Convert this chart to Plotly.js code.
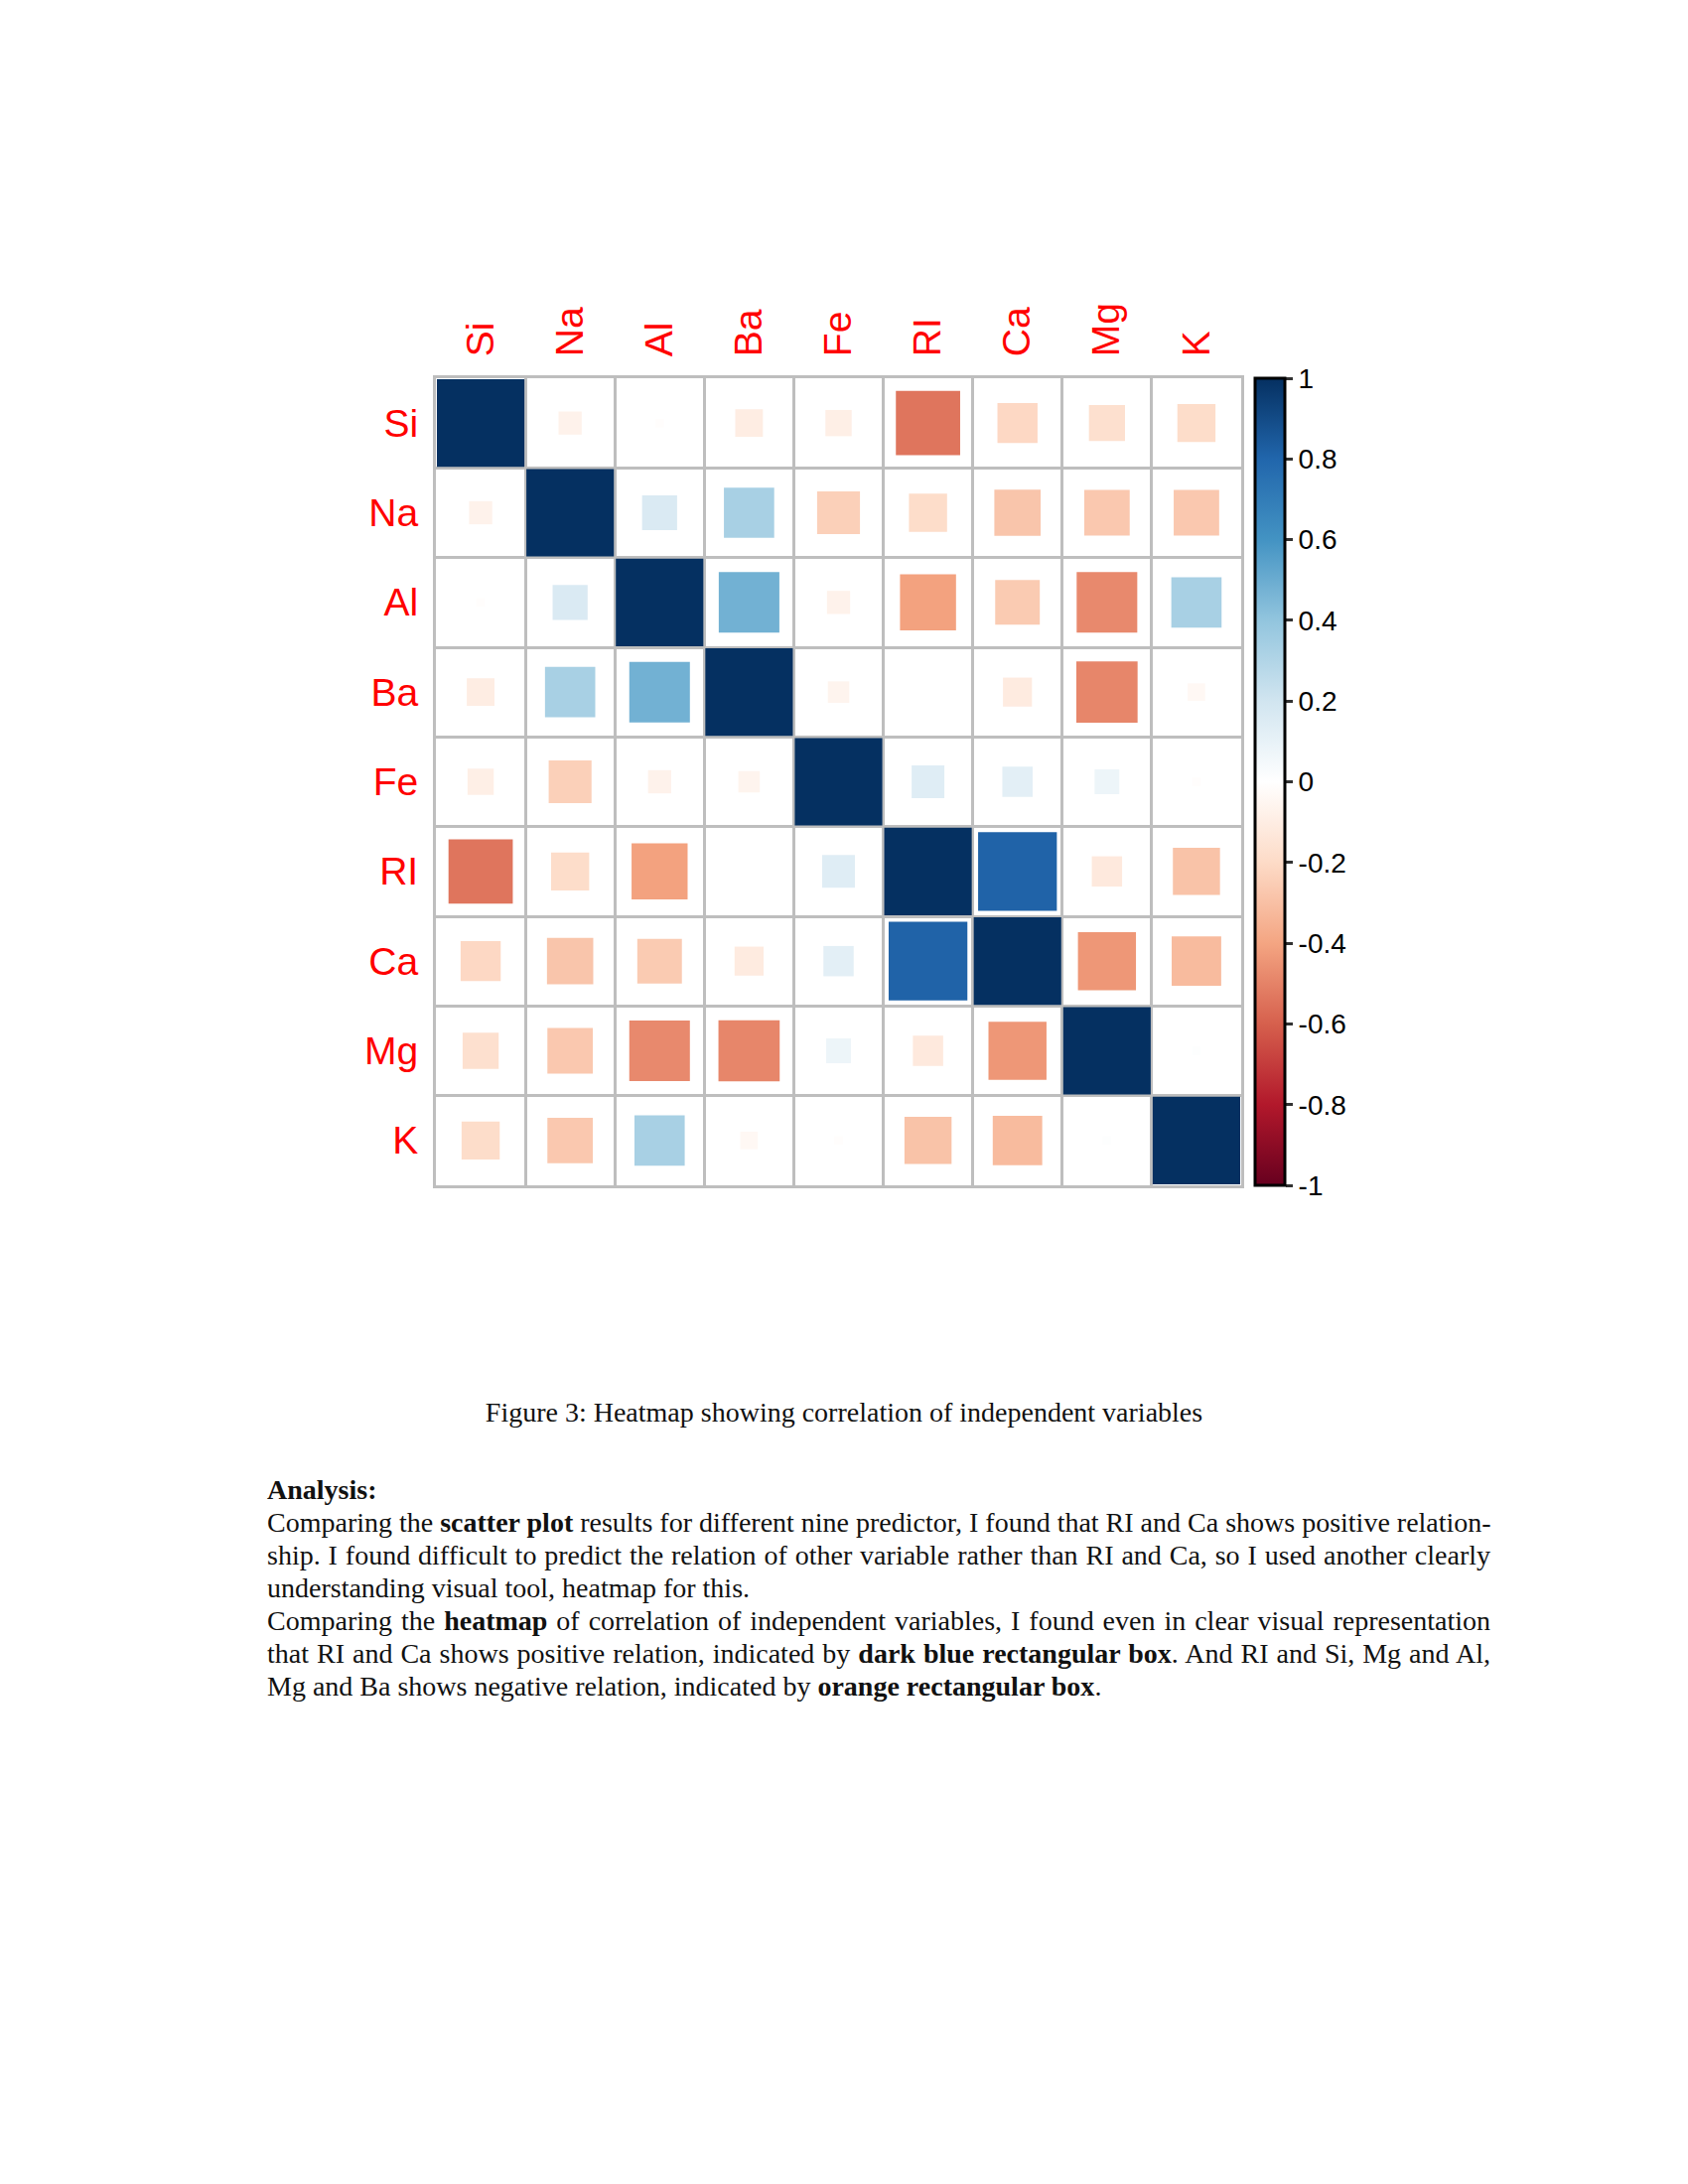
<!DOCTYPE html>
<html>
<head>
<meta charset="utf-8">
<script src="https://cdn.plot.ly/plotly-3.0.1.min.js"></script>
<style>
  html, body { margin: 0; padding: 0; background: #fff; }
  body { width: 1700px; height: 2200px; position: relative; overflow: hidden; }
  #chart { position: absolute; left: 0; top: 0; width: 1700px; height: 1300px; }
  .txt { position: absolute; font-family: "Liberation Serif", "Times New Roman", serif; color: #111; font-size: 28px; }
  #caption { left: 0; width: 1700px; top: 1407px; text-align: center; }
  #analysis { left: 269px; width: 1232px; top: 1484px; line-height: 33px; }
  .j { text-align: justify; text-align-last: justify; white-space: nowrap; }
  .l { text-align: left; white-space: nowrap; }
</style>
</head>
<body>
<div id="chart"></div>
<div id="caption" class="txt">Figure 3: Heatmap showing correlation of independent variables</div>
<div id="analysis" class="txt">
  <div class="l"><b>Analysis:</b></div>
  <div class="j">Comparing the <b>scatter plot</b> results for different nine predictor, I found that RI and Ca shows positive relation-</div>
  <div class="j">ship. I found difficult to predict the relation of other variable rather than RI and Ca, so I used another clearly</div>
  <div class="l">understanding visual tool, heatmap for this.</div>
  <div class="j">Comparing the <b>heatmap</b> of correlation of independent variables, I found even in clear visual representation</div>
  <div class="j">that RI and Ca shows positive relation, indicated by <b>dark blue rectangular box</b>. And RI and Si, Mg and Al,</div>
  <div class="l">Mg and Ba shows negative relation, indicated by <b>orange rectangular box</b>.</div>
</div>
<script>
// Variables in display order (rows top->bottom, columns left->right)
const variables = ["Si", "Na", "Al", "Ba", "Fe", "RI", "Ca", "Mg", "K"];

// Correlation matrix rows (same order as variables)
const rowSi = [ 1.00, -0.07, -0.01, -0.10, -0.09, -0.54, -0.21, -0.17, -0.19];
const rowNa = [-0.07,  1.00,  0.16,  0.33, -0.24, -0.19, -0.28, -0.27, -0.27];
const rowAl = [-0.01,  0.16,  1.00,  0.48, -0.07, -0.41, -0.26, -0.48,  0.33];
const rowBa = [-0.10,  0.33,  0.48,  1.00, -0.06,  0.00, -0.11, -0.49, -0.04];
const rowFe = [-0.09, -0.24, -0.07, -0.06,  1.00,  0.14,  0.12,  0.08, -0.01];
const rowRI = [-0.54, -0.19, -0.41,  0.00,  0.14,  1.00,  0.81, -0.12, -0.29];
const rowCa = [-0.21, -0.28, -0.26, -0.11,  0.12,  0.81,  1.00, -0.44, -0.32];
const rowMg = [-0.17, -0.27, -0.48, -0.49,  0.08, -0.12, -0.44,  1.00,  0.01];
const rowK  = [-0.19, -0.27,  0.33, -0.04, -0.01, -0.29, -0.32,  0.01,  1.00];
const corrRows = [rowSi, rowNa, rowAl, rowBa, rowFe, rowRI, rowCa, rowMg, rowK];

// Colorbar ticks
const cbTickVals = [1, 0.8, 0.6, 0.4, 0.2, 0, -0.2, -0.4, -0.6, -0.8, -1];
const cbTickText = ["1", "0.8", "0.6", "0.4", "0.2", "0", "-0.2", "-0.4", "-0.6", "-0.8", "-1"];

// corrplot RdBu palette (COL2)
const palette = ["#67001F", "#B2182B", "#D6604D", "#F4A582", "#FDDBC7", "#FFFFFF",
                 "#D1E5F0", "#92C5DE", "#4393C3", "#2166AC", "#053061"];

const n = variables.length;
const plotL = 439, plotR = 1250, plotT = 381, plotB = 1194;
const W = 1700, H = 1300;
const cellPx = (plotR - plotL) / n;

const xs = [], ys = [], cs = [], ss = [];
for (let i = 0; i < n; i++) {
  for (let j = 0; j < n; j++) {
    const r = corrRows[i][j];
    xs.push(j); ys.push(i); cs.push(r);
    ss.push(Math.sqrt(Math.abs(r)) * (cellPx - 2));
  }
}
const colorscale = palette.map((c, k) => [k / (palette.length - 1), c]);

const trace = {
  type: "scatter",
  mode: "markers",
  x: xs, y: ys,
  hoverinfo: "skip",
  marker: {
    symbol: "square",
    size: ss,
    color: cs,
    cmin: -1, cmax: 1,
    colorscale: colorscale,
    line: { width: 0 },
    opacity: 1,
    showscale: true,
    colorbar: {
      x: (1264 - plotL) / (plotR - plotL),
      xanchor: "left",
      xref: "paper",
      y: 0.5, yanchor: "middle",
      len: 1, lenmode: "fraction",
      thickness: 30,
      outlinecolor: "#000",
      outlinewidth: 3,
      tickmode: "array",
      tickvals: cbTickVals,
      ticktext: cbTickText,
      ticks: "outside",
      ticklen: 7,
      tickwidth: 3,
      tickcolor: "#333",
      tickfont: { family: "Liberation Sans, Arial, sans-serif", size: 28, color: "#000" },
      ypad: 0, xpad: 0
    }
  }
};

const gridColor = "#BEBEBE";
const layout = {
  width: W, height: H,
  paper_bgcolor: "rgba(0,0,0,0)",
  plot_bgcolor: "#fff",
  showlegend: false,
  margin: { l: plotL, r: W - plotR, t: plotT, b: H - plotB, pad: 0 },
  xaxis: {
    range: [-0.5, n - 0.5],
    side: "top",
    tickmode: "array",
    tickvals: variables.map((v, k) => k),
    ticktext: variables,
    tickangle: -90,
    tickfont: { family: "Liberation Sans, Arial, sans-serif", size: 39, color: "#FF0000" },
    ticks: "",
    ticklabelstandoff: 11,
    showgrid: false,
    zeroline: false,
    showline: true, mirror: true, linecolor: gridColor, linewidth: 3,
    minor: { tick0: 0.5, dtick: 1, showgrid: true, gridcolor: gridColor, gridwidth: 3, ticks: "" },
    fixedrange: true
  },
  yaxis: {
    range: [n - 0.5, -0.5],
    tickmode: "array",
    tickvals: variables.map((v, k) => k),
    ticktext: variables,
    tickfont: { family: "Liberation Sans, Arial, sans-serif", size: 39, color: "#FF0000" },
    ticks: "",
    ticklabelstandoff: 7,
    showgrid: false,
    zeroline: false,
    showline: true, mirror: true, linecolor: gridColor, linewidth: 3,
    minor: { tick0: 0.5, dtick: 1, showgrid: true, gridcolor: gridColor, gridwidth: 3, ticks: "" },
    fixedrange: true
  }
};

Plotly.newPlot("chart", [trace], layout, { displayModeBar: false, staticPlot: true });
</script>
</body>
</html>
